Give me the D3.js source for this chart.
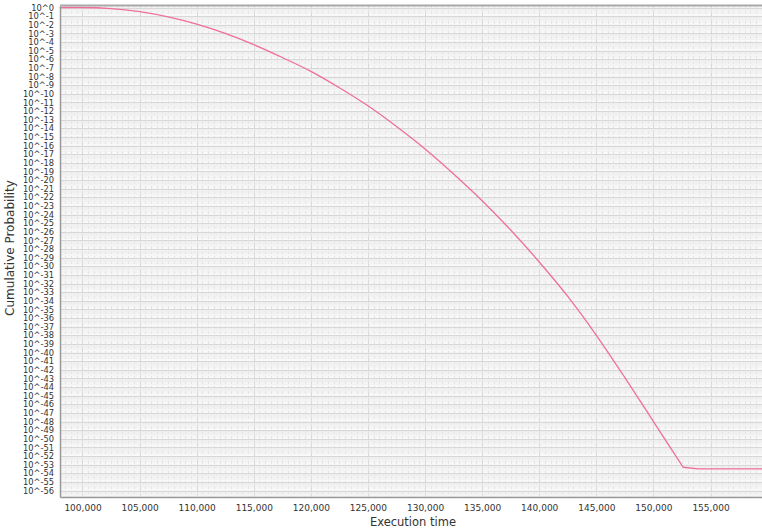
<!DOCTYPE html>
<html>
<head>
<meta charset="utf-8">
<script src="https://cdn.jsdelivr.net/npm/d3@7"></script>
<style>
  html, body { margin: 0; padding: 0; background: #ffffff; }
  svg { display: block; }
</style>
</head>
<body>
<svg id="chart" width="762" height="529"></svg>
<script>
// ---- data ----
const execTime = [98000, 100000, 102500, 105000, 107500, 110000, 112500, 115000, 117500, 120000,
  122500, 125000, 127500, 130000, 132500, 135000, 137500, 140000, 142500, 145000,
  147500, 150000, 152600];
const log10Prob = [0, 0, -0.12, -0.48, -1.09, -1.93, -3.0, -4.3, -5.8, -7.4,
  -9.3, -11.4, -13.8, -16.4, -19.3, -22.4, -25.8, -29.5, -33.5, -38.0,
  -42.9, -48.0, -53.3];
// tail after the kink
const tailTime = [152600, 153900, 159600];
const tailLog10Prob = [-53.3, -53.5, -53.5];
const yTickExponents = d3.range(0, -57, -1); // 10^0 .. 10^-56
const xTickValues = [100000, 105000, 110000, 115000, 120000, 125000, 130000, 135000, 140000, 145000, 150000, 155000];
const xLabel = "Execution time";
const yLabel = "Cumulative Probability";

// ---- layout ----
const svg = d3.select("#chart");
const pLeft = 60, pRight = 762, pTop = 6, pBottom = 497;

const x = d3.scaleLinear().domain([98030, 159510]).range([pLeft, pRight]);
const y = d3.scaleLog().domain([Math.pow(10, 0.174), Math.pow(10, -56.75)]).range([pTop, pBottom]);

const g = svg.append("g");

// background
g.append("rect").attr("x", pLeft).attr("y", pTop).attr("width", pRight - pLeft).attr("height", pBottom - pTop)
  .attr("fill", "#f9f9f9");

// vertical minor grid
const xMinor = d3.range(98500, 159600, 500);
g.append("g").selectAll("line").data(xMinor).join("line")
  .attr("x1", d => Math.round(x(d)) + 0.5).attr("x2", d => Math.round(x(d)) + 0.5)
  .attr("y1", pTop).attr("y2", pBottom)
  .attr("stroke", d => d % 5000 === 0 ? "#d4d4d4" : "#e2e2e2")
  .attr("stroke-width", 1)
  .attr("stroke-dasharray", d => d % 5000 === 0 ? null : "3,2");

// horizontal minor grid (log minor ticks)
const yMinor = [];
for (let k = -57; k <= 0; k++) {
  for (let m = 2; m <= 9; m++) {
    const v = m * Math.pow(10, k);
    if (y(v) > pTop && y(v) < pBottom) yMinor.push(v);
  }
}
g.append("g").selectAll("line").data(yMinor).join("line")
  .attr("x1", pLeft).attr("x2", pRight)
  .attr("y1", d => y(d)).attr("y2", d => y(d))
  .attr("stroke", "#ececec").attr("stroke-width", 0.6);

// horizontal major grid
g.append("g").selectAll("line").data(yTickExponents).join("line")
  .attr("x1", pLeft).attr("x2", pRight)
  .attr("y1", d => Math.round(y(Math.pow(10, d))) + 0.5).attr("y2", d => Math.round(y(Math.pow(10, d))) + 0.5)
  .attr("stroke", "#d8d8d8").attr("stroke-width", 1);

// curve
const pts = execTime.map((t, i) => [t, Math.pow(10, log10Prob[i])]);
const tailPts = tailTime.map((t, i) => [t, Math.pow(10, tailLog10Prob[i])]);
g.append("path").datum(pts)
  .attr("fill", "none").attr("stroke", "#ef6e9c").attr("stroke-width", 1.3)
  .attr("d", d3.line().x(d => x(d[0])).y(d => y(d[1])).curve(d3.curveMonotoneX));
g.append("path").datum(tailPts)
  .attr("fill", "none").attr("stroke", "#ef6e9c").attr("stroke-width", 1.3)
  .attr("stroke-linejoin", "round")
  .attr("d", d3.line().x(d => x(d[0])).y(d => y(d[1])));

// frame
g.append("line").attr("x1", pLeft).attr("x2", pRight).attr("y1", pTop - 0.5).attr("y2", pTop - 0.5)
  .attr("stroke", "#a8a8a8").attr("stroke-width", 2);

// y axis
const yAxis = d3.axisLeft(y).tickValues(yTickExponents.map(e => Math.pow(10, e)))
  .tickFormat((d, i) => "10^" + yTickExponents[i]).tickSize(0).tickPadding(6);
const ya = svg.append("g").attr("transform", `translate(${pLeft},0)`).call(yAxis);
ya.select(".domain").attr("stroke", "#999").attr("stroke-width", 1.5);
ya.selectAll("text").attr("font-family", "DejaVu Sans").attr("font-size", "8.3px").attr("fill", "#333");

// x axis
const xAxis = d3.axisBottom(x).tickValues(xTickValues).tickFormat(d3.format(",")).tickSize(0).tickPadding(8);
const xa = svg.append("g").attr("transform", `translate(0,${pBottom})`).call(xAxis);
xa.select(".domain").attr("stroke", "#999").attr("stroke-width", 1.5);
xa.selectAll("text").attr("font-family", "DejaVu Sans").attr("font-size", "9px").attr("fill", "#333");

// labels
svg.append("text").attr("x", 413).attr("y", 526).attr("text-anchor", "middle")
  .attr("font-family", "DejaVu Sans").attr("font-size", "11.5px").attr("fill", "#333").text(xLabel);
svg.append("text").attr("transform", "translate(14,248) rotate(-90)").attr("text-anchor", "middle")
  .attr("font-family", "DejaVu Sans").attr("font-size", "12px").attr("fill", "#333").text(yLabel);
</script>
</body>
</html>
